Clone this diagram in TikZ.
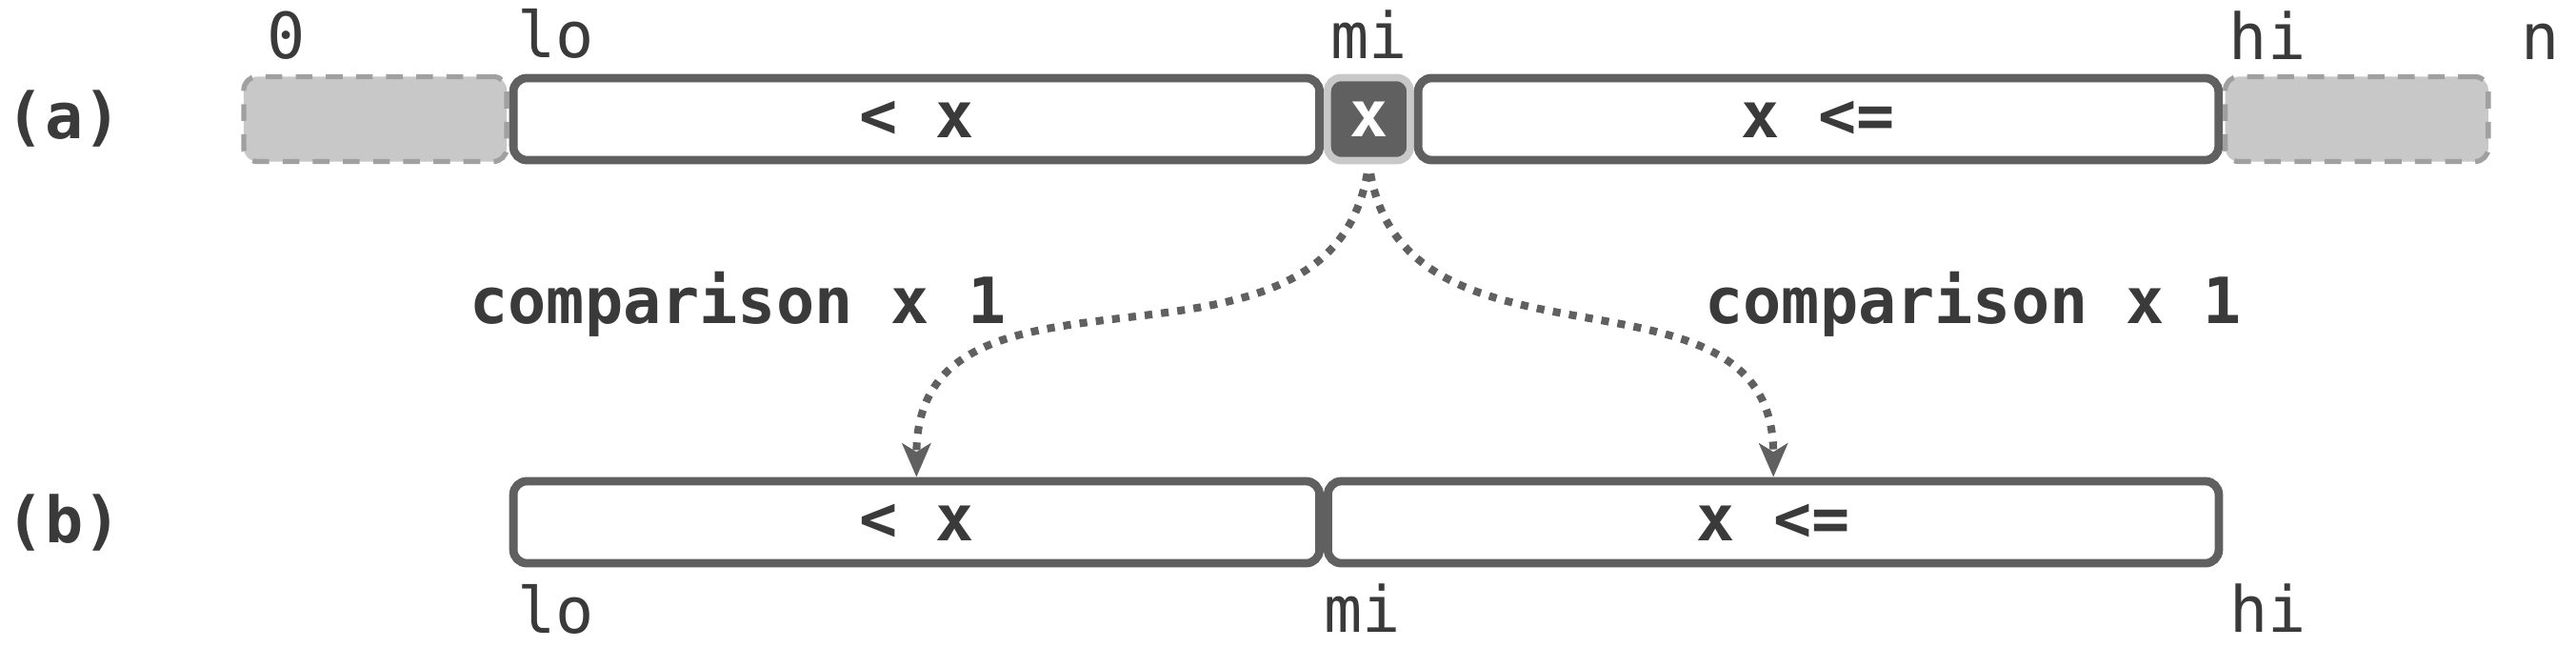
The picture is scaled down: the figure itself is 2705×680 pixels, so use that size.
\documentclass[tikz,border=0pt]{standalone}
\usepackage{fontspec}
\setmonofont{DejaVu Sans Mono}
\usetikzlibrary{positioning,arrows.meta}
\definecolor{ink}{HTML}{3A3A3A}
\definecolor{edgegray}{HTML}{606060}
\definecolor{fillgray}{HTML}{C8C8C8}
\definecolor{dashgray}{HTML}{A0A0A0}
\newcommand{\monofont}{\ttfamily\fontsize{19}{19}\selectfont}
\tikzset{
    cell/.style={draw=edgegray, line width=2.5pt, rounded corners=4pt, fill=white,
        minimum height=0.86cm, text=ink, font=\monofont\bfseries},
    rest/.style={draw=dashgray, line width=1.5pt, dash pattern=on 5pt off 4pt,
        fill=fillgray, rounded corners=4pt, minimum height=0.89cm, minimum width=2.76cm},
    pivot/.style={draw=fillgray, line width=2.2pt, rounded corners=4pt, fill=edgegray,
        minimum size=0.87cm, text=white, font=\monofont\bfseries},
    idx/.style={text=ink, font=\monofont, inner sep=0pt},
    tag/.style={idx, font=\monofont\bfseries},
    probe/.style={draw=edgegray, line width=2.3pt, dash pattern=on 2.3pt off 2.6pt,
        shorten <=0.1cm, -{Stealth[length=10pt, width=8.5pt, inset=2.5pt]}}
}
\begin{document}
\begin{tikzpicture}[x=0.01cm, y=-0.01cm]
    \useasboundingbox (0,0) rectangle (2705,680);

    % (a) one comparison at mi
    \node[rest] (l0) at (394,125) {};
    \node[cell, minimum width=8.46cm, right=0pt of l0] (lt) {< x};
    \node[pivot, right=0pt of lt] (piv) {x};
    \node[cell, minimum width=8.40cm, right=0pt of piv] (ge) {x <=};
    \node[rest, right=0pt of ge] (r0) {};
    \node[tag, left=1.25cm of l0] (a) {(a)};

    \node[idx, above right=0.15cm and 0.26cm of l0.north west] (zero) {0};
    \node[idx, above right=0.15cm and 0.08cm of lt.north west] (lo) {lo};
    \node[idx, above=0.15cm of piv.north] (mi) {mi};
    \node[idx, above right=0.15cm and 0.06cm of r0.north west] (hi) {hi};
    \node[idx, above right=0.15cm and 0.31cm of r0.north east] (n) {n};

    % (b) two halves
    \node[cell, minimum width=8.46cm, below=3.28cm of lt] (lt2) {< x};
    \node[cell, minimum width=9.35cm, right=0pt of lt2] (ge2) {x <=};
    \node[tag] (b) at (a |- lt2) {(b)};

    \node[idx, below right=0.17cm and 0.08cm of lt2.south west] (lo2) {lo};
    \node[idx, below right=0.17cm and 0cm of lt2.south east] (mi2) {mi};
    \node[idx, below right=0.17cm and 0.06cm of ge2.south east] (hi2) {hi};

    \node[tag] (c1) at (775,319) {comparison x 1};
    \node[tag] (c2) at (2072,319) {comparison x 1};

    \path
    (piv.south) edge[probe, out=-100, in=90, looseness=1.15] (lt2.north)
    (piv.south) edge[probe, out=-80, in=90, looseness=1.15] (ge2.north);
\end{tikzpicture}
\end{document}
